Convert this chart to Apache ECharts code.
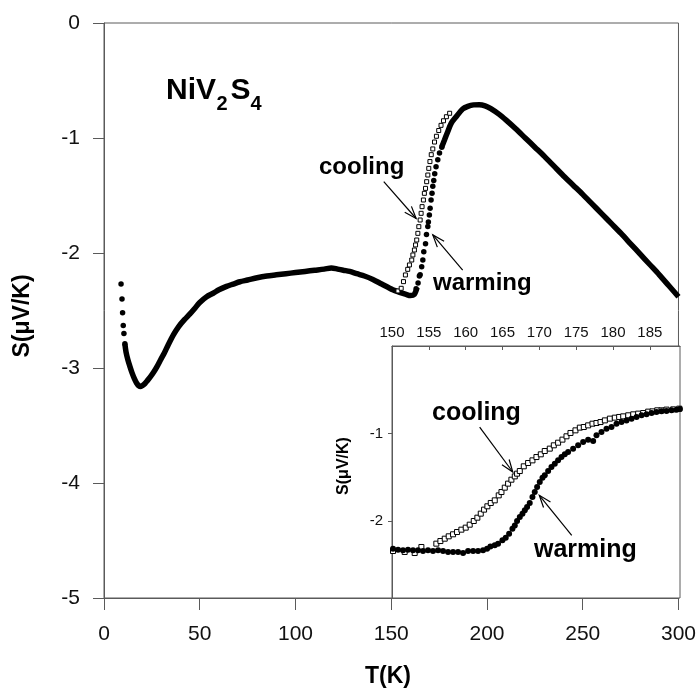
<!DOCTYPE html>
<html><head><meta charset="utf-8">
<script src="https://cdn.jsdelivr.net/npm/echarts@6/dist/echarts.min.js"></script>
<style>html,body{margin:0;padding:0;background:#fff}#c{width:699px;height:693px}</style>
</head><body><div id="c"></div>
<script>
// ---------- data (T in K, S in µV/K) ----------
const lowTDots = [[8.9,-2.27],[9.4,-2.40],[9.7,-2.52],[10.05,-2.63],[10.4,-2.70],[10.9,-2.79]];
const mainLineLow = [[10.9,-2.79],[11.5,-2.86],[12.5,-2.93],[13.6,-2.99],[14.6,-3.04],[15.8,-3.09],[17.0,-3.13],[18.2,-3.155],[19.2,-3.16],[20.3,-3.15],[21.4,-3.135],[22.6,-3.11],[24.1,-3.08],[25.8,-3.04],[27.6,-2.99],[29.5,-2.93],[31.5,-2.87],[33.5,-2.80],[36.3,-2.71],[39,-2.64],[42,-2.58],[44.9,-2.53],[47.5,-2.48],[50,-2.43],[53.6,-2.38],[57,-2.35],[60,-2.32],[64,-2.29],[67.5,-2.27],[71,-2.25],[75,-2.235],[80,-2.215],[85,-2.20],[90,-2.19],[95,-2.18],[100,-2.17],[105,-2.16],[110,-2.15],[115,-2.14],[118.7,-2.13],[122,-2.14],[125,-2.15],[128.3,-2.16],[132,-2.18],[136,-2.20],[140.4,-2.23],[145,-2.27],[150.8,-2.32],[154,-2.34],[157.8,-2.36],[160,-2.37],[162,-2.36],[163.5,-2.30]];
const mainTransitionWarming = [[163.0,-2.31],[164.0,-2.26],[164.7,-2.20],[165.1,-2.19],[165.9,-2.12],[166.5,-2.06],[167.0,-1.99],[167.9,-1.92],[168.4,-1.84],[169.1,-1.77],[169.4,-1.73],[169.9,-1.67],[170.3,-1.61],[170.8,-1.54],[171.3,-1.48],[171.7,-1.42],[172.2,-1.37],[172.7,-1.31],[173.4,-1.25],[174.3,-1.19],[175.2,-1.13],[176.4,-1.08]];
const mainLineHigh = [[176.4,-1.076],[177.8,-1.017],[179.5,-0.945],[181.3,-0.872],[183.9,-0.815],[187.3,-0.748],[190,-0.725],[193,-0.712],[196,-0.71],[199,-0.72],[202,-0.745],[206.4,-0.795],[210,-0.845],[215,-0.92],[220,-1.00],[225,-1.08],[230,-1.16],[235,-1.245],[240,-1.33],[245,-1.41],[250,-1.49],[255,-1.575],[260,-1.66],[265,-1.745],[270,-1.83],[275,-1.92],[280,-2.01],[285,-2.10],[290,-2.19],[295,-2.285],[300,-2.38]];
const mainCooling = [[153.5,-2.33],[155.2,-2.307],[156.4,-2.249],[157.4,-2.191],[158.6,-2.142],[159.5,-2.104],[160.7,-2.061],[161.3,-2.017],[162.1,-1.974],[162.7,-1.930],[163.3,-1.887],[163.9,-1.829],[164.4,-1.771],[165.1,-1.713],[165.6,-1.655],[166.1,-1.597],[166.8,-1.539],[167.3,-1.481],[167.9,-1.438],[168.5,-1.380],[169.1,-1.322],[169.6,-1.264],[170.2,-1.205],[170.9,-1.145],[171.7,-1.095],[172.6,-1.035],[173.6,-0.985],[174.8,-0.935],[176.0,-0.890],[177.3,-0.85],[178.8,-0.815],[180.5,-0.785]];
const insetCooling = [[150.14,-2.343],[151.72,-2.354],[153.08,-2.366],[153.99,-2.297],[156.02,-2.259],[156.57,-2.229],[157.16,-2.202],[157.70,-2.175],[158.29,-2.152],[158.83,-2.126],[159.42,-2.099],[160.01,-2.076],[160.55,-2.042],[161.10,-2.000],[161.59,-1.962],[162.05,-1.916],[162.50,-1.870],[162.95,-1.832],[163.41,-1.794],[163.95,-1.764],[164.49,-1.707],[164.86,-1.669],[165.31,-1.619],[165.76,-1.573],[166.21,-1.528],[166.67,-1.490],[166.98,-1.459],[167.35,-1.429],[167.89,-1.375],[168.48,-1.337],[169.07,-1.307],[169.61,-1.269],[170.20,-1.238],[170.74,-1.200],[171.42,-1.173],[171.97,-1.135],[172.55,-1.105],[173.14,-1.070],[173.69,-1.032],[174.23,-0.994],[174.91,-0.964],[175.50,-0.933],[176.04,-0.926],[176.63,-0.907],[177.22,-0.888],[177.76,-0.880],[178.31,-0.869],[178.90,-0.850],[179.58,-0.830],[180.25,-0.819],[180.84,-0.811],[181.39,-0.804],[182.07,-0.792],[182.75,-0.781],[183.42,-0.773],[184.10,-0.766],[184.78,-0.750],[185.37,-0.747],[186.01,-0.735],[186.59,-0.735],[187.27,-0.727],[188.18,-0.724],[189.00,-0.716]];
const insetWarming = [[150.14,-2.316],[150.82,-2.328],[151.49,-2.335],[152.17,-2.328],[152.85,-2.335],[153.53,-2.335],[154.21,-2.343],[154.89,-2.335],[155.57,-2.343],[156.25,-2.335],[156.93,-2.343],[157.61,-2.354],[158.29,-2.354],[158.97,-2.354],[159.65,-2.366],[160.33,-2.343],[161.01,-2.343],[161.68,-2.343],[162.36,-2.335],[162.91,-2.316],[163.36,-2.290],[163.95,-2.278],[164.40,-2.259],[164.99,-2.221],[165.44,-2.190],[165.90,-2.145],[166.35,-2.088],[166.67,-2.050],[166.98,-2.000],[167.35,-1.954],[167.71,-1.916],[168.03,-1.878],[168.34,-1.840],[168.70,-1.794],[169.07,-1.726],[169.38,-1.669],[169.70,-1.611],[170.06,-1.554],[170.43,-1.505],[170.74,-1.478],[171.20,-1.429],[171.65,-1.383],[172.10,-1.345],[172.55,-1.307],[173.01,-1.269],[173.46,-1.238],[173.91,-1.211],[174.59,-1.173],[175.27,-1.135],[175.95,-1.097],[176.63,-1.070],[177.31,-1.086],[177.76,-1.021],[178.44,-0.983],[179.12,-0.945],[179.80,-0.926],[180.48,-0.888],[181.16,-0.869],[181.84,-0.850],[182.52,-0.830],[183.20,-0.811],[183.88,-0.792],[184.56,-0.781],[185.24,-0.766],[185.91,-0.754],[186.59,-0.747],[187.27,-0.743],[187.95,-0.735],[188.63,-0.728],[189.09,-0.720]];
const insetXTicks = [150,155,160,165,170,175,180,185];
const insetYTicks = [-1,-2];
// annotation anchors (data coords): [tail, tip]
const mainCoolArrow = [[146.1,-1.38],[163.0,-1.70]];
const mainWarmArrow = [[187.3,-2.148],[171.7,-1.843]];
const insetCoolArrow = [[161.9,-0.926],[166.4,-1.44]];
const insetWarmArrow = [[174.4,-2.163],[170.0,-1.706]];

const FONT = "'Liberation Sans', Arial, Helvetica, sans-serif";
const AX = '#5a5a5a';
const chart = echarts.init(document.getElementById('c'), null, {renderer:'canvas'});

const option = {
  animation:false,
  backgroundColor:'#fff',
  grid:[
    {left:104, top:23, width:576, height:575, show:true, borderColor:AX, borderWidth:1, backgroundColor:'transparent', containLabel:false},
    {left:392, top:346, width:288, height:252, show:true, borderColor:AX, borderWidth:1, backgroundColor:'#fff', containLabel:false, z:5}
  ],
  xAxis:[
    {gridIndex:0, type:'value', min:0, max:300, interval:50,
     axisLine:{show:true, onZero:false, lineStyle:{color:AX,width:1}},
     axisTick:{show:true, inside:false, length:12, lineStyle:{color:AX}},
     axisLabel:{fontFamily:FONT, fontSize:21, color:'#111', margin:26},
     splitLine:{show:false}},
    {gridIndex:1, type:'value', position:'top', min:150, max:189.1, z:6,
     axisLine:{show:true, onZero:false, lineStyle:{color:AX,width:1}},
     axisTick:{show:true, inside:true, length:4, lineStyle:{color:AX}, customValues:insetXTicks},
     axisLabel:{fontFamily:FONT, fontSize:15, color:'#111', margin:6, customValues:insetXTicks},
     splitLine:{show:false}}
  ],
  yAxis:[
    {gridIndex:0, type:'value', min:-5, max:0, interval:1,
     axisLine:{show:true, onZero:false, lineStyle:{color:AX,width:1}},
     axisTick:{show:true, inside:false, length:11, lineStyle:{color:AX}},
     axisLabel:{fontFamily:FONT, fontSize:21, color:'#111', margin:24},
     splitLine:{show:false}},
    {gridIndex:1, type:'value', min:-2.88, max:0, z:6,
     axisLine:{show:true, onZero:false, lineStyle:{color:AX,width:1}},
     axisTick:{show:true, inside:false, length:4, lineStyle:{color:AX}, customValues:insetYTicks},
     axisLabel:{fontFamily:FONT, fontSize:15, color:'#111', margin:9, customValues:insetYTicks},
     splitLine:{show:false}}
  ],
  series:[
    {type:'line', xAxisIndex:0, yAxisIndex:0, data:mainLineLow, smooth:0.3, symbol:'none', lineStyle:{color:'#000', width:5.5}, z:2},
    {type:'line', xAxisIndex:0, yAxisIndex:0, data:mainLineHigh, smooth:0.3, symbol:'none', lineStyle:{color:'#000', width:5.5}, z:2},
    {type:'scatter', xAxisIndex:0, yAxisIndex:0, data:lowTDots, symbol:'circle', symbolSize:5.5, itemStyle:{color:'#000', opacity:1}, z:3},
    {type:'scatter', xAxisIndex:0, yAxisIndex:0, data:mainCooling, symbol:'rect', symbolSize:4, itemStyle:{color:'#fff', borderColor:'#000', borderWidth:1, opacity:1}, z:3},
    {type:'scatter', xAxisIndex:0, yAxisIndex:0, data:mainTransitionWarming, symbol:'circle', symbolSize:5.5, itemStyle:{color:'#000', opacity:1}, z:4},
    {type:'scatter', xAxisIndex:1, yAxisIndex:1, data:insetCooling, symbol:'rect', symbolSize:5, itemStyle:{color:'#fff', borderColor:'#000', borderWidth:1, opacity:1}, z:7},
    {type:'scatter', xAxisIndex:1, yAxisIndex:1, data:insetWarming, symbol:'circle', symbolSize:6, itemStyle:{color:'#000', opacity:1}, z:8}
  ]
};
chart.setOption(option);

function txt(x, y, s, size, bold, extra){
  return Object.assign({type:'text', x:x, y:y, z:20, style:{text:s, font:(bold?'bold ':'')+size+'px '+FONT, fill:'#000', align:'left', verticalAlign:'bottom', textAlign:'left', textVerticalAlign:'bottom'}}, extra||{});
}
function arrow(a, grid){
  const p0 = chart.convertToPixel({gridIndex:grid}, a[0]);
  const p1 = chart.convertToPixel({gridIndex:grid}, a[1]);
  const dx = p1[0]-p0[0], dy = p1[1]-p0[1], L = Math.hypot(dx,dy);
  const ux = dx/L, uy = dy/L, h = 13, th = 0.35;
  const b = (t)=>[p1[0]-h*(ux*Math.cos(t)-uy*Math.sin(t)), p1[1]-h*(uy*Math.cos(t)+ux*Math.sin(t))];
  return [
    {type:'line', z:20, shape:{x1:p0[0],y1:p0[1],x2:p1[0],y2:p1[1]}, style:{stroke:'#000', lineWidth:1.2}},
    {type:'polyline', z:20, shape:{points:[b(th), p1, b(-th)]}, style:{stroke:'#000', lineWidth:1.2, fill:null}}
  ];
}
const g = [];
// titles
g.push(txt(166, 106, 'NiV', 30, true));
g.push(txt(216.5, 114, '2', 20, true));
g.push(txt(230.5, 106, 'S', 30, true));
g.push(txt(250.5, 114, '4', 20, true));
g.push(txt(319, 179, 'cooling', 24, true));
g.push(txt(433, 295, 'warming', 24, true));
g.push(txt(432, 426, 'cooling', 25, true));
g.push(txt(534, 563, 'warming', 25, true));
g.push({type:'text', x:23, y:316, rotation:Math.PI/2, z:20, style:{text:'S(\u03bcV/K)', font:'bold 23px '+FONT, fill:'#000', align:'center', verticalAlign:'middle', textAlign:'center', textVerticalAlign:'middle'}});
g.push({type:'text', x:388, y:677, z:20, style:{text:'T(K)', font:'bold 23px '+FONT, fill:'#000', align:'center', verticalAlign:'middle', textAlign:'center', textVerticalAlign:'middle'}});
g.push({type:'text', x:344, y:466, rotation:Math.PI/2, z:20, style:{text:'S(\u03bcV/K)', font:'bold 16px '+FONT, fill:'#000', align:'center', verticalAlign:'middle', textAlign:'center', textVerticalAlign:'middle'}});
[[mainCoolArrow,0],[mainWarmArrow,0],[insetCoolArrow,1],[insetWarmArrow,1]].forEach(([a,gi])=>arrow(a,gi).forEach(e=>g.push(e)));
chart.setOption({graphic:g});
</script></body></html>
